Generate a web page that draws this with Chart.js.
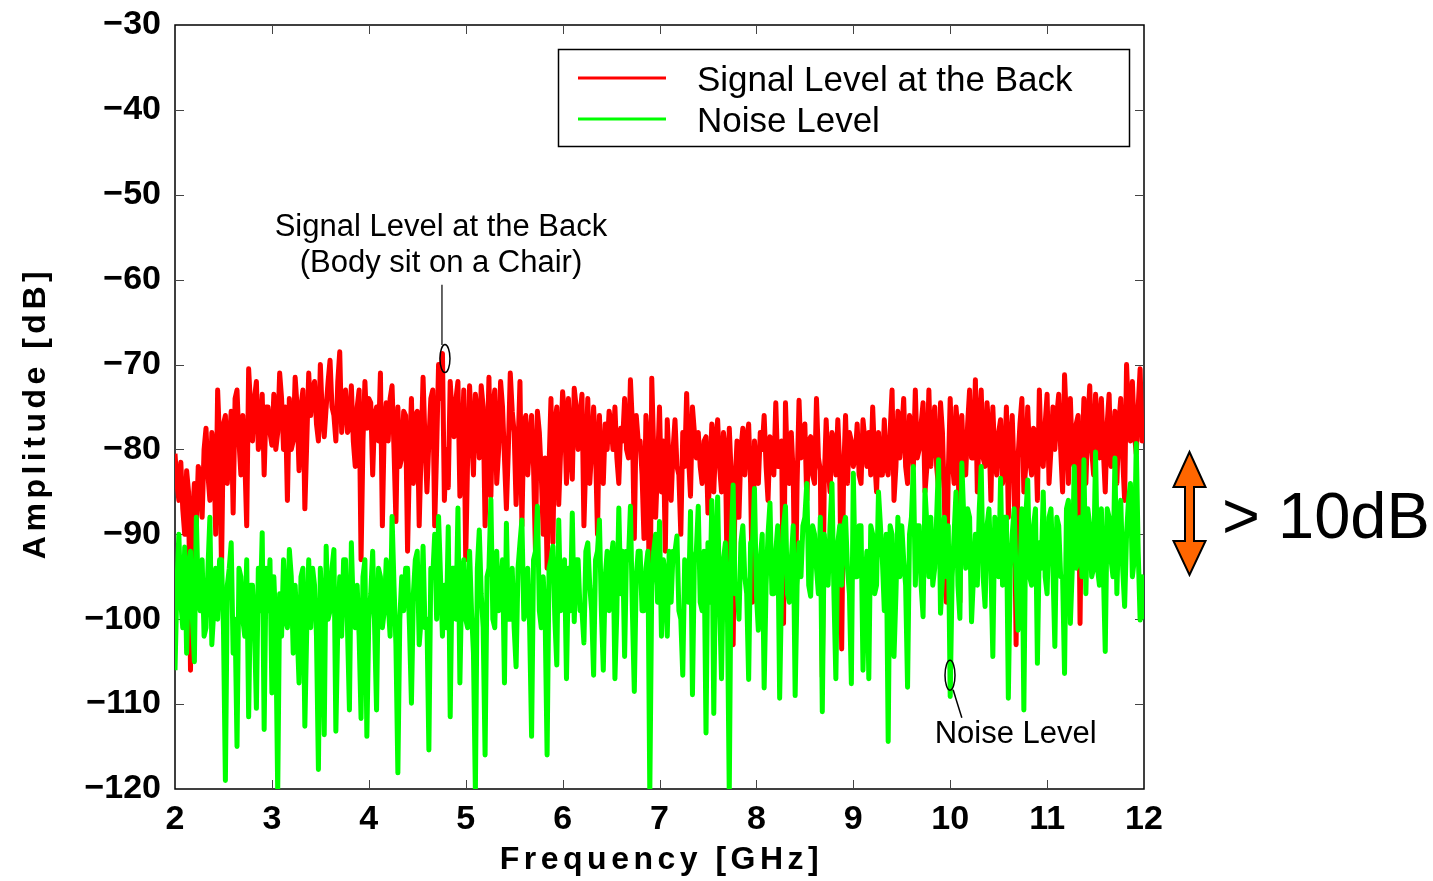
<!DOCTYPE html>
<html>
<head>
<meta charset="utf-8">
<script src="https://cdn.jsdelivr.net/npm/chart.js"></script>
<style>
  html, body { margin: 0; padding: 0; background: #fff; }
  #wrap { width: 1433px; height: 881px; position: relative; }
</style>
</head>
<body>
<div id="wrap"><canvas id="spectrumChart"></canvas></div>
<script>
// frequency range of the sweep [GHz] and amplitude range [dB]
const freqMin = 2;
const freqMax = 12;
const ampMin = -120;
const ampMax = -30;
const xTickStep = 1;
const yTickStep = 10;

// Signal level at the back (evenly spaced across 2-12 GHz)
const signalLevel = [
    -80.5, -84, -86, -81.5, -87, -90, -82.5, -85,
    -106, -88, -84, -89, -82, -83, -88, -80,
    -77.5, -83, -86, -78, -80, -90, -73, -79,
    -94, -77, -76, -84, -79, -75.5, -87.5, -74,
    -73, -79, -83, -76, -81, -89, -70.5, -75,
    -79, -74, -72, -80, -78, -73.5, -83, -75,
    -75, -78, -79.5, -73.5, -80, -78, -71, -74,
    -80, -75, -86, -74, -80, -79, -71.5, -75,
    -82.5, -75, -73, -87, -79, -71, -76, -73,
    -72, -77, -79, -70, -76, -78.5, -75, -72,
    -69.5, -75, -76, -79, -72, -68.5, -78, -74,
    -73, -78, -77.5, -72.5, -79, -82, -75, -73,
    -93, -79, -72, -77.5, -74, -74.5, -83, -76,
    -75, -79, -71, -89, -77, -74.5, -79, -74,
    -72.5, -80, -88.5, -75, -82, -81, -75.5, -76,
    -92, -81, -74, -84, -76, -75.5, -89, -80,
    -71.5, -79, -85, -79, -74, -73, -89, -80,
    -70, -74, -68.7, -86, -80, -84.5, -72, -76,
    -78.5, -74, -72, -85.5, -80, -73, -93, -81,
    -72.5, -78, -83, -73.5, -76, -81, -72.5, -75,
    -89, -81, -71.5, -85.5, -75, -73, -84, -80,
    -72, -75, -81, -87, -80, -71, -75.5, -78,
    -86.5, -80, -72, -89, -77, -76, -83, -79,
    -76, -82, -92, -75.5, -78, -83, -90, -81,
    -94, -82, -74, -91, -77, -75, -86.5, -80,
    -73.2, -76, -84, -74, -80, -83.5, -72.8, -75,
    -80, -76, -73.5, -89, -81, -74, -84, -80,
    -75, -80, -90, -76, -82, -84, -77, -80,
    -75.5, -77, -80, -75, -81, -84, -77.5, -79,
    -74, -80, -81, -71.8, -77, -90.5, -76, -79,
    -79, -83, -90.5, -76, -79, -106, -71.6, -80,
    -88, -82, -75, -85, -79, -92, -76.5, -82,
    -86, -80, -76.5, -82, -83, -90, -78, -82,
    -73.4, -81, -85.5, -75, -78, -81, -78, -82,
    -84, -79, -78.5, -87.5, -83, -77, -85, -79,
    -76.5, -82, -85, -78, -80, -97, -77.5, -83,
    -103, -84, -79, -88, -80, -77.5, -83, -79,
    -77, -84, -98, -79, -83, -84, -78, -80,
    -76, -82, -86, -78.5, -79, -83, -74.5, -82,
    -82, -79, -100.5, -74.5, -82, -84, -78, -83,
    -100, -84, -74.2, -81, -78, -77, -86, -79,
    -78.5, -83, -84, -74, -81, -82.5, -106.8, -84,
    -76.5, -82, -85, -78, -79, -83, -76.5, -82,
    -103.5, -83, -76, -84, -78, -79, -82, -81,
    -77, -83, -84, -76.5, -79, -82, -78, -83,
    -75, -81, -85, -78, -83, -83, -76.5, -82,
    -83, -78, -73, -86, -82, -75.5, -81, -78,
    -74, -82, -84, -76, -78, -82, -73, -81,
    -80, -77, -74.5, -85, -82, -73, -82, -78,
    -75, -82, -84.5, -74.5, -78, -86, -98, -83,
    -74, -81, -84, -75, -78, -98, -76, -82,
    -83, -77, -73, -81, -81, -71.8, -85, -77,
    -73, -81, -82, -74.5, -78, -86, -75, -81,
    -83, -78, -76.5, -84, -82, -75, -88, -79,
    -76, -83, -103, -81, -77, -74, -85, -82,
    -75, -81, -83, -77.5, -78, -86, -73, -81,
    -82, -77, -73.5, -84, -80, -75, -80, -76,
    -73.5, -80, -85, -71.2, -77, -84, -74, -81,
    -82, -77, -76, -100.5, -81, -74, -84, -77,
    -72.5, -80, -83, -73.5, -77, -81, -74, -80,
    -85, -77, -73.5, -82, -81, -75.5, -84, -77,
    -74, -81, -86, -70, -76, -79, -72, -78,
    -80.5, -75, -70.5, -79, -78
];

// Noise level, same frequency grid
const noiseLevel = [
    -106, -96, -90, -98, -101, -91.5, -104, -94,
    -92, -100, -105, -88, -97, -99, -93, -102,
    -101, -94, -88, -103, -99, -94, -100, -93,
    -93, -101, -119, -96, -94, -91, -104, -100,
    -115, -94, -95, -100, -102, -93, -111.5, -96,
    -96, -101, -110.5, -94, -99, -89.8, -113, -94,
    -99, -93, -108.7, -95, -101, -120.5, -97, -102,
    -93, -100, -101, -91.8, -95, -104, -96, -101,
    -107.5, -95, -94, -112.6, -101, -93, -101, -94,
    -96, -102, -117.7, -94, -99, -113.6, -91.4, -100,
    -99, -94, -91.8, -113.2, -101, -95, -102, -93,
    -93, -101, -110.7, -91, -99, -101, -96, -102,
    -111.7, -95, -93, -113.8, -100, -97, -92, -101,
    -110.7, -94, -95, -101, -99, -93, -98, -102,
    -87.9, -96, -103, -118.1, -100, -95, -99, -94,
    -94, -101, -109.9, -97, -93, -92, -103, -100,
    -91.4, -101, -100, -115.4, -94, -95, -90, -100,
    -87.9, -95, -102, -96, -101, -89.1, -111.5, -94,
    -94, -100, -86.9, -107.5, -95, -93, -100, -101,
    -92, -99, -104, -120.3, -94, -89.5, -97, -101,
    -116, -95, -94, -85.9, -100, -101, -92, -99,
    -98, -93, -107.5, -88.7, -100, -100, -94, -101,
    -105.6, -94, -91, -88.3, -100, -99, -94, -101,
    -113.8, -93, -92, -86.7, -99, -101, -95, -100,
    -116, -94, -93, -91.4, -100, -105.4, -88.3, -99,
    -98, -93, -107, -94, -99, -87.5, -100.3, -93,
    -93, -99, -99, -102.8, -92, -91, -96, -99,
    -106.6, -93, -92, -88.3, -99, -106, -95, -92,
    -99, -93, -91, -107, -99, -86.9, -97, -92,
    -104.4, -92, -93, -86.7, -99, -108.5, -95, -92,
    -92, -99, -99, -94, -92, -120.5, -96, -92,
    -90, -98, -88.5, -102, -93, -95, -102, -92,
    -98, -92, -92, -90.2, -99, -100, -106.6, -93,
    -94, -98, -87.3, -108.9, -93, -92, -86.7, -98,
    -99, -92, -113.4, -91, -98, -86, -111.1, -92,
    -85.6, -98, -107, -93, -91, -98, -120.5, -91,
    -84.2, -97, -96, -100, -91, -89, -95, -97,
    -107.1, -91, -91, -84.6, -97, -101.3, -93, -90,
    -108.1, -96, -90, -86.3, -97, -97, -92, -89,
    -109.3, -96, -89, -86.7, -97, -98, -93, -89,
    -109, -96, -91, -95, -89, -88, -84, -96,
    -97.3, -89, -90, -94, -97, -88, -110.9, -90,
    -93, -96, -89, -84, -97, -107, -91, -89,
    -96, -89, -88, -94, -97, -107.6, -82.8, -95,
    -95, -89, -89, -106, -96, -92, -107, -89,
    -90, -97, -96, -85, -89, -93, -99, -90,
    -114.4, -89, -90, -104.4, -97, -88, -95, -89,
    -93, -96, -108, -90, -88, -82, -96, -89,
    -89, -96, -99.7, -84.8, -89, -95, -88, -96,
    -94, -88, -81.2, -99.3, -95, -88, -95, -89,
    -109.1, -95, -90, -85, -96, -99.9, -81.6, -88,
    -94, -87, -88, -100.3, -95, -90, -96, -87,
    -82, -95, -98.5, -89, -87, -94, -104.4, -88,
    -91, -95, -83.4, -96, -88, -88, -109.3, -94,
    -90, -87, -95, -101.3, -95, -87, -110.7, -88,
    -83.6, -95, -96, -89, -87, -105.2, -91, -94,
    -85, -95, -97, -88, -87, -94, -103.2, -88,
    -89, -95, -95, -106.4, -87, -86, -100.5, -94,
    -82, -94, -93, -88, -95, -81.2, -97, -87,
    -89, -95, -94, -80.3, -94, -96, -87, -94,
    -103.8, -87, -88, -93, -95, -81, -97, -88,
    -86, -94, -98.5, -90, -86, -84, -95, -93,
    -79.3, -92, -100.1, -95, -100
];

const FONT = "'Liberation Sans', Arial, Helvetica, sans-serif";
const RED = '#ff0000';
const GREEN = '#00ff00';

// sample grid: points are evenly spaced over the sweep
const toPoints = (vals) => vals.map((v, i) => ({
    x: freqMin + i * (freqMax - freqMin) / (vals.length - 1),
    y: v
}));

const overlay = {
    id: 'overlay',
    beforeDatasetsDraw(chart) {
        const { ctx, chartArea: a, scales: { x, y } } = chart;
        ctx.save();
        ctx.strokeStyle = '#000';
        ctx.lineWidth = 1.5;
        ctx.strokeRect(a.left, a.top, a.right - a.left, a.bottom - a.top);
        // inward tick marks on all four sides
        ctx.lineWidth = 1;
        ctx.strokeStyle = '#444';
        ctx.beginPath();
        for (let f = freqMin + xTickStep; f < freqMax; f += xTickStep) {
            const px = Math.round(x.getPixelForValue(f)) + 0.5;
            ctx.moveTo(px, a.bottom); ctx.lineTo(px, a.bottom - 9);
            ctx.moveTo(px, a.top); ctx.lineTo(px, a.top + 9);
        }
        for (let v = ampMin + yTickStep; v < ampMax; v += yTickStep) {
            const py = Math.round(y.getPixelForValue(v)) + 0.5;
            ctx.moveTo(a.left, py); ctx.lineTo(a.left + 9, py);
            ctx.moveTo(a.right, py); ctx.lineTo(a.right - 9, py);
        }
        ctx.stroke();
        ctx.restore();
    },
    afterDraw(chart) {
        const { ctx, chartArea: a, scales: { x, y } } = chart;
        ctx.save();
        ctx.fillStyle = '#000';

        // axis titles (bold, letter spaced)
        ctx.font = 'bold 32px ' + FONT;
        ctx.letterSpacing = '4.5px';
        ctx.textAlign = 'center';
        ctx.textBaseline = 'middle';
        ctx.fillText('Frequency [GHz]', (a.left + a.right) / 2 + 2, 860);
        ctx.save();
        ctx.translate(36, 413);
        ctx.rotate(-Math.PI / 2);
        ctx.fillText('Amplitude [dB]', 0, 0);
        ctx.restore();
        ctx.letterSpacing = '0px';

        // legend box
        const ds = chart.data.datasets;
        const order = [ds[1], ds[0]];
        ctx.fillStyle = '#fff';
        ctx.fillRect(558, 49, 572, 98);
        ctx.strokeStyle = '#000';
        ctx.lineWidth = 1.5;
        ctx.strokeRect(558.5, 49.5, 571, 97);
        ctx.font = '35px ' + FONT;
        ctx.textAlign = 'left';
        order.forEach((d, i) => {
            const ly = 78 + i * 41;
            ctx.strokeStyle = d.borderColor;
            ctx.lineWidth = 3;
            ctx.beginPath();
            ctx.moveTo(578, ly); ctx.lineTo(666, ly);
            ctx.stroke();
            ctx.fillStyle = '#000';
            ctx.fillText(d.label, 697, ly + 3);
        });

        // annotation: signal peak
        ctx.font = '31px ' + FONT;
        ctx.textAlign = 'center';
        ctx.fillStyle = '#000';
        const sx = x.getPixelForValue(4.745);
        ctx.fillText('Signal Level at the Back', sx, y.getPixelForValue(-53.8));
        ctx.fillText('(Body sit on a Chair)', sx, y.getPixelForValue(-58.1));
        ctx.strokeStyle = '#333';
        ctx.lineWidth = 1.5;
        ctx.beginPath();
        ctx.moveTo(x.getPixelForValue(4.755), y.getPixelForValue(-60.6));
        ctx.lineTo(x.getPixelForValue(4.755), y.getPixelForValue(-67.7));
        ctx.stroke();
        ctx.strokeStyle = '#000';
        ctx.beginPath();
        ctx.ellipse(x.getPixelForValue(4.786), y.getPixelForValue(-69.3), 5, 14, 0, 0, Math.PI * 2);
        ctx.stroke();

        // annotation: noise dip
        ctx.beginPath();
        ctx.ellipse(x.getPixelForValue(9.998), y.getPixelForValue(-106.6), 5, 15, 0, 0, Math.PI * 2);
        ctx.stroke();
        ctx.beginPath();
        ctx.moveTo(x.getPixelForValue(10.03), y.getPixelForValue(-108.3));
        ctx.lineTo(x.getPixelForValue(10.12), y.getPixelForValue(-111.6));
        ctx.stroke();
        ctx.textAlign = 'left';
        ctx.fillText('Noise Level', x.getPixelForValue(9.84), y.getPixelForValue(-113.6));

        // orange double arrow + "> 10dB"
        const cx = 1189.5;
        ctx.beginPath();
        ctx.moveTo(cx, 452);
        ctx.lineTo(cx + 16, 487);
        ctx.lineTo(cx + 4.5, 487);
        ctx.lineTo(cx + 4.5, 541);
        ctx.lineTo(cx + 16, 541);
        ctx.lineTo(cx, 575);
        ctx.lineTo(cx - 16, 541);
        ctx.lineTo(cx - 4.5, 541);
        ctx.lineTo(cx - 4.5, 487);
        ctx.lineTo(cx - 16, 487);
        ctx.closePath();
        ctx.fillStyle = '#ff6600';
        ctx.fill();
        ctx.strokeStyle = '#000';
        ctx.lineWidth = 2;
        ctx.stroke();
        ctx.fillStyle = '#000';
        ctx.font = '65px ' + FONT;
        ctx.textAlign = 'left';
        ctx.fillText('> 10dB', 1222, 520);
        ctx.restore();
    }
};

new Chart(document.getElementById('spectrumChart'), {
    type: 'line',
    data: {
        datasets: [
            {
                // drawn last, so noise sits on top of the signal like the original
                label: 'Noise Level',
                data: toPoints(noiseLevel),
                borderColor: GREEN,
                borderWidth: 5,
                pointRadius: 0,
                tension: 0,
                borderJoinStyle: 'round',
                fill: false
            },
            {
                label: 'Signal Level at the Back',
                data: toPoints(signalLevel),
                borderColor: RED,
                borderWidth: 5,
                pointRadius: 0,
                tension: 0,
                borderJoinStyle: 'round',
                fill: false
            }
        ]
    },
    options: {
        responsive: true,
        maintainAspectRatio: false,
        animation: false,
        devicePixelRatio: 1,
        layout: { padding: { top: 25, right: 289, bottom: 0, left: 0 } },
        plugins: {
            legend: { display: false },
            tooltip: { enabled: false }
        },
        scales: {
            x: {
                type: 'linear',
                min: freqMin,
                max: freqMax,
                grid: { display: false, drawTicks: false },
                border: { display: false },
                afterFit: (s) => { s.height = 92; s.paddingLeft = 0; s.paddingRight = 0; },
                ticks: {
                    stepSize: xTickStep,
                    color: '#000',
                    padding: 10,
                    maxRotation: 0,
                    font: { family: FONT, size: 34, weight: 'bold' }
                }
            },
            y: {
                min: ampMin,
                max: ampMax,
                grid: { display: false, drawTicks: false },
                border: { display: false },
                afterFit: (s) => { s.width = 175; s.paddingTop = 0; s.paddingBottom = 0; },
                ticks: {
                    stepSize: yTickStep,
                    color: '#000',
                    padding: 14,
                    font: { family: FONT, size: 34, weight: 'bold' },
                    callback: (v) => (v < 0 ? '\u2212' + Math.abs(v) : String(v))
                }
            }
        }
    },
    plugins: [overlay]
});
</script>
</body>
</html>
